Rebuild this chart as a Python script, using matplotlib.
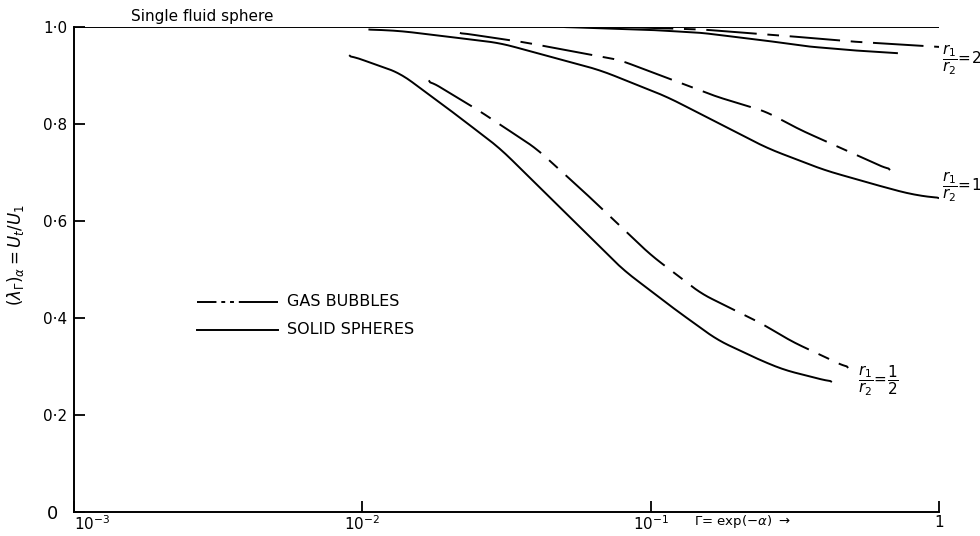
import numpy as np
import matplotlib.pyplot as plt
from matplotlib.lines import Line2D

# Gamma = exp(-alpha) on the x axis, velocity ratio on the y axis
single_x = [1e-3, 1.0]
single_y = [1.0, 1.0]

# r1/r2 = 2
solid_2_x = [0.05, 0.1, 0.15, 0.25, 0.35, 0.5, 0.72]
solid_2_y = [1.0, 0.994, 0.988, 0.972, 0.960, 0.952, 0.946]
gas_2_x = [0.08, 0.15, 0.29, 0.5, 1.0]
gas_2_y = [1.0, 0.995, 0.982, 0.970, 0.959]

# r1/r2 = 1
solid_1_x = [0.0105, 0.0135, 0.03, 0.0668, 0.114, 0.254, 0.4, 0.6, 0.8, 1.0]
solid_1_y = [0.995, 0.992, 0.967, 0.911, 0.856, 0.750, 0.705, 0.675, 0.655, 0.647]
gas_1_x = [0.0218, 0.036, 0.078, 0.17, 0.25, 0.33, 0.676]
gas_1_y = [0.988, 0.969, 0.932, 0.856, 0.826, 0.788, 0.705]

# r1/r2 = 1/2
solid_h_x = [0.009, 0.0135, 0.02, 0.03, 0.05, 0.08, 0.12, 0.17, 0.24, 0.29, 0.425]
solid_h_y = [0.942, 0.905, 0.83, 0.75, 0.62, 0.50, 0.42, 0.355, 0.313, 0.293, 0.268]
gas_h_x = [0.017, 0.025, 0.04, 0.06, 0.1, 0.15, 0.24, 0.31, 0.484]
gas_h_y = [0.89, 0.83, 0.75, 0.655, 0.53, 0.45, 0.39, 0.351, 0.297]

x_ticks = [1e-3, 1e-2, 1e-1, 1.0]
x_ticklabels = [r'$10^{-3}$', r'$10^{-2}$', r'$10^{-1}$', '1']
y_ticks = [0, 0.2, 0.4, 0.6, 0.8, 1.0]
y_ticklabels = ['0', '0·2', '0·4', '0·6', '0·8', '1·0']

gas_dash = (0, (26, 5.5, 6, 5.5))
key_dash = (0, (10, 2.5, 2, 2.5, 2, 2.5, 30, 5))
lw = 1.4

fig = plt.figure(figsize=(9.8, 5.36), dpi=100)
ax = fig.add_axes([0.0755, 0.0448, 0.8827, 0.9048])


def curve(xs, ys, **kw):
    lx = np.log10(xs)
    t = np.linspace(lx[0], lx[-1], 300)
    y = np.interp(t, lx, ys)
    # light running mean to round off the corners of the polyline
    k = 15
    ypad = np.concatenate([np.full(k // 2, y[0]), y, np.full(k // 2, y[-1])])
    y_s = np.convolve(ypad, np.ones(k) / k, mode='valid')
    y_s[0], y_s[-1] = ys[0], ys[-1]
    ax.plot(10 ** t, y_s, color='black', lw=lw, solid_capstyle='butt',
            dash_capstyle='butt', **kw)


ax.plot(single_x, single_y, color='black', lw=lw)
curve(solid_2_x, solid_2_y)
curve(gas_2_x, gas_2_y, linestyle=gas_dash)
curve(solid_1_x, solid_1_y)
curve(gas_1_x, gas_1_y, linestyle=gas_dash)
curve(solid_h_x, solid_h_y)
curve(gas_h_x, gas_h_y, linestyle=gas_dash)

ax.set_xscale('log')
ax.set_xlim(1e-3, 1.0)
ax.set_ylim(0, 1.0)
ax.set_xticks(x_ticks)
ax.set_xticklabels(x_ticklabels)
ax.minorticks_off()
ax.set_yticks(y_ticks)
ax.set_yticklabels(y_ticklabels)
ax.tick_params(direction='in', length=8, width=1.3, labelsize=11, pad=5)
ax.tick_params(axis='x', pad=2)
ax.get_xticklabels()[0].set_ha('left')
ax.get_yticklabels()[0].set_fontsize(13)
ax.get_yticklabels()[0].set_x(-0.01)
for side in ['top', 'right']:
    ax.spines[side].set_visible(False)
for side in ['left', 'bottom']:
    ax.spines[side].set_linewidth(1.4)

fig.text(202 / 980, 1 - 16 / 536, 'Single fluid sphere', fontsize=11,
         ha='center', va='center')
fig.text(694 / 980, 1 - 522 / 536, r'$\Gamma$= exp($-\alpha$) $\rightarrow$',
         fontsize=9.5, ha='left', va='center')
fig.text(15 / 980, 1 - 255 / 536, r'$(\lambda_\Gamma)_\alpha = U_t/U_1$',
         rotation=90, fontsize=12, ha='center', va='center')

# key for the two line styles
for y_px, style, label in [(302, key_dash, 'GAS BUBBLES'),
                           (330, '-', 'SOLID SPHERES')]:
    yf = 1 - y_px / 536
    fig.add_artist(Line2D([197 / 980, 278 / 980], [yf, yf], color='black',
                          lw=lw, linestyle=style, dash_capstyle='butt'))
    fig.text(287 / 980, yf, label, fontsize=11.5, ha='left', va='center')

ax.text(1.02, 0.932, r'$\dfrac{r_1}{r_2}\!=\!2$', fontsize=11, va='center',
        clip_on=False)
ax.text(1.02, 0.67, r'$\dfrac{r_1}{r_2}\!=\!1$', fontsize=11, va='center',
        clip_on=False)
ax.text(0.524, 0.27, r'$\dfrac{r_1}{r_2}\!=\!\dfrac{1}{2}$', fontsize=11,
        va='center')

fig.savefig('out.png', dpi=100)
